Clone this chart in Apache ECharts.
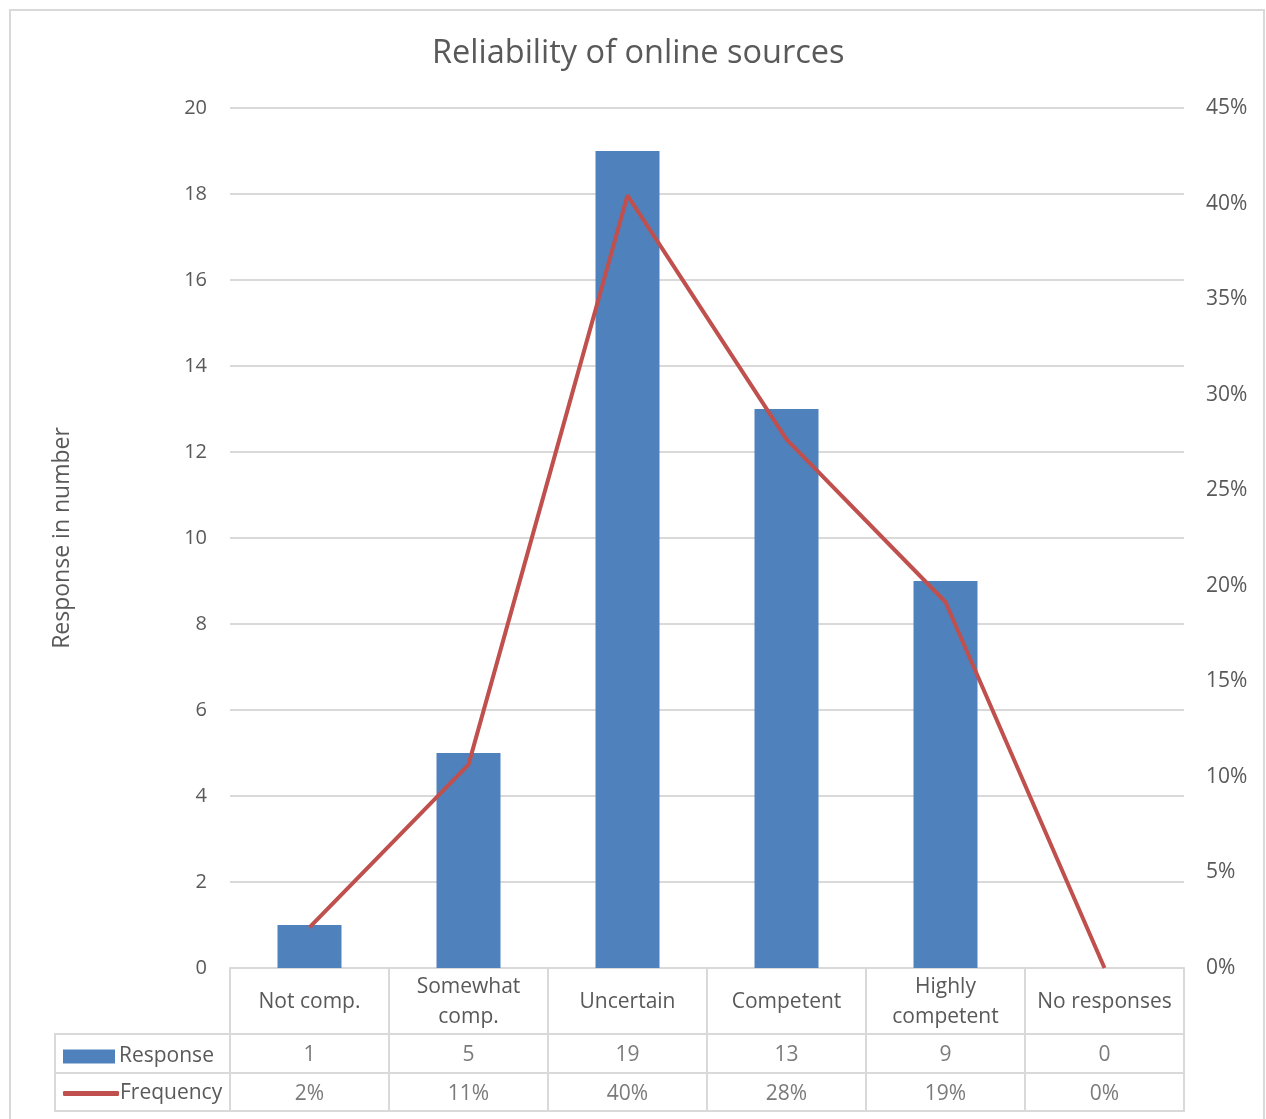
<!DOCTYPE html>
<html>
<head>
<meta charset="utf-8">
<script src="https://cdn.jsdelivr.net/npm/echarts@6/dist/echarts.min.js"></script>
<style>
html,body{margin:0;padding:0;background:#fff;}
#chart{position:absolute;left:0;top:0;width:1266px;height:1119px;}
#frame{position:absolute;left:9px;top:9px;width:1252px;height:1130px;border:2px solid #d9d9d9;pointer-events:none;}
</style>
</head>
<body>
<div id="chart"></div>
<div id="frame"></div>
<script>
var categories = ['Not comp.', 'Somewhat\ncomp.', 'Uncertain', 'Competent', 'Highly\ncompetent', 'No responses'];
var responseValues = [1, 5, 19, 13, 9, 0];
var frequencyValues = [0.0213, 0.1064, 0.4043, 0.2766, 0.1915, 0];
var leftTicks = [0, 2, 4, 6, 8, 10, 12, 14, 16, 18, 20];
var rightTicks = ['0%', '5%', '10%', '15%', '20%', '25%', '30%', '35%', '40%', '45%'];
var rowNames = ['Response', 'Frequency'];

var FONT = 'Open Sans';
var TXT = '#595959';
var GRIDC = '#d9d9d9';
var BLUE = '#4f81bd';
var RED = '#c0504d';

var tableCells = [];
responseValues.forEach(function (v, i) { tableCells.push([i, 'Response', String(v)]); });
frequencyValues.forEach(function (v, i) { tableCells.push([i, 'Frequency', Math.round(v * 100) + '%']); });

var chart = echarts.init(document.getElementById('chart'));
chart.setOption({
  backgroundColor: '#fff',
  animation: false,
  textStyle: { fontFamily: FONT, color: TXT },
  title: {
    text: 'Reliability of online sources',
    left: 427, top: 32,
    textStyle: { fontFamily: FONT, fontSize: 32.5, fontWeight: 'normal', color: TXT }
  },
  legend: [
    {
      data: [{ name: 'Response', icon: 'rect' }],
      left: 58, top: 1041, itemWidth: 52, itemHeight: 14, itemGap: 6,
      textStyle: { fontFamily: FONT, fontSize: 21, color: TXT, padding: [0, 0, 0, -1] },
      selectedMode: false
    },
    {
      data: [{ name: 'Frequency', icon: 'roundRect', itemStyle: { color: RED } }],
      left: 58, top: 1078, itemWidth: 56, itemHeight: 5, itemGap: 6,
      textStyle: { fontFamily: FONT, fontSize: 21, color: TXT, padding: [0, 0, 0, -4] },
      selectedMode: false
    }
  ],
  grid: [
    { left: 230, right: 82, top: 108, bottom: 151, containLabel: false },
    { left: 230, right: 82, top: 1034, height: 77, containLabel: false },
    { left: 55, right: 82, top: 1034, height: 77, show: true, borderColor: GRIDC, borderWidth: 2, backgroundColor: 'transparent' }
  ],
  xAxis: [
    {
      type: 'category', gridIndex: 0, data: categories, boundaryGap: true,
      axisLine: { lineStyle: { color: GRIDC, width: 2 } },
      axisTick: { show: true, length: 66, lineStyle: { color: GRIDC, width: 2 } },
      axisLabel: { margin: 34, verticalAlign: 'middle', fontFamily: FONT, fontSize: 21, color: TXT, lineHeight: 30, interval: 0 }
    },
    {
      type: 'category', gridIndex: 1, data: categories, boundaryGap: true,
      axisLine: { show: false }, axisTick: { show: false }, axisLabel: { show: false },
      splitLine: { show: true, interval: 0, lineStyle: { color: GRIDC, width: 2 } }
    },
    { type: 'value', gridIndex: 2, show: false }
  ],
  yAxis: [
    {
      type: 'value', gridIndex: 0, min: leftTicks[0], max: leftTicks[leftTicks.length - 1], interval: 2,
      name: 'Response in number', nameLocation: 'middle', nameGap: 156,
      nameTextStyle: { fontFamily: FONT, fontSize: 23, color: TXT },
      axisLine: { show: false }, axisTick: { show: false },
      axisLabel: { margin: 23, fontFamily: FONT, fontSize: 20, color: TXT },
      splitLine: { lineStyle: { color: GRIDC, width: 2 } }
    },
    {
      type: 'value', gridIndex: 0, position: 'right', min: 0, max: 0.45, interval: 0.05,
      axisLine: { show: false }, axisTick: { show: false },
      axisLabel: { margin: 22, fontFamily: FONT, fontSize: 21, color: TXT,
        formatter: function (v) { return rightTicks[Math.round(v / 0.05)]; } },
      splitLine: { show: false }
    },
    {
      type: 'category', gridIndex: 1, data: rowNames, inverse: true, boundaryGap: true,
      axisLine: { show: false },
      axisTick: { show: true, length: 175, lineStyle: { color: GRIDC, width: 2 } },
      axisLabel: { show: false },
      splitLine: { show: true, interval: 0, lineStyle: { color: GRIDC, width: 2 } }
    },
    { type: 'value', gridIndex: 2, show: false }
  ],
  series: [
    {
      name: 'Response', type: 'bar', xAxisIndex: 0, yAxisIndex: 0,
      data: responseValues, barWidth: 64,
      itemStyle: { color: BLUE }
    },
    {
      name: 'Frequency', type: 'line', xAxisIndex: 0, yAxisIndex: 1,
      data: frequencyValues, symbol: 'none',
      lineStyle: { color: RED, width: 4 }, itemStyle: { color: RED }
    },
    {
      name: 'table', type: 'scatter', xAxisIndex: 1, yAxisIndex: 2,
      data: tableCells, symbolSize: 0, silent: true,
      label: { show: true, position: 'inside', offset: [0, 2], fontFamily: FONT, fontSize: 21, color: TXT,
        formatter: function (p) { return p.value[2]; } }
    }
  ]
});
</script>
</body>
</html>
